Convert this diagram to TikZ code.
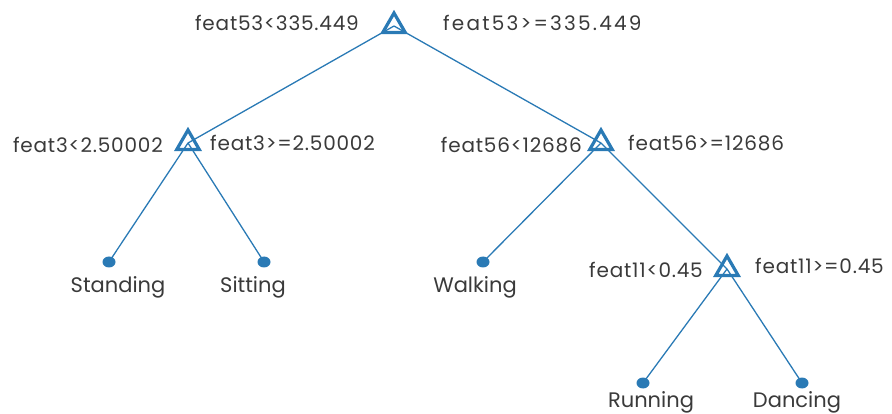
\documentclass[tikz,border=0pt]{standalone}
\usepackage{fontspec}
\setmainfont{Poppins}
\usetikzlibrary{shapes.geometric}
\definecolor{treeblue}{HTML}{2A7AB5}
\definecolor{treetext}{HTML}{3A3A3A}
\begin{document}
\begin{tikzpicture}
        [
            x = 1pt, y = -1pt,
            split/.style = {regular polygon, regular polygon sides=3, draw=treeblue,
                line width=3.2pt, minimum size=26pt, inner sep=0pt},
            leaf/.style = {ellipse, fill=treeblue, minimum width=13pt, minimum height=11pt, inner sep=0pt},
            branch/.style = {draw=treeblue, line width=1.3pt},
            cond/.style = {text=treetext, font=\fontsize{20}{24}\selectfont\addfontfeatures{LetterSpace=4}, inner sep=0pt},
            act/.style = {text=treetext, font=\fontsize{21}{25}\selectfont, inner sep=0pt, anchor=base},
        ]
        \useasboundingbox (0,0) rectangle (892,414);
        % split nodes
        \node[split] (f53) at (394,26) {};
        \node[split] (f3) at (188,143) {};
        \node[split] (f56) at (601,143) {};
        \node[split] (f11) at (727,269) {};
        % leaves
        \node[leaf] (stand) at (109,262) {};
        \node[leaf] (sit) at (264,262) {};
        \node[leaf] (walk) at (483,262) {};
        \node[leaf] (run) at (643,383) {};
        \node[leaf] (dance) at (802,383) {};
        % branches
        \draw[branch] (f53.center) -- (f3.center);
        \draw[branch] (f53.center) -- (f56.center);
        \draw[branch] (f3.center) -- (stand.center);
        \draw[branch] (f3.center) -- (sit.center);
        \draw[branch] (f56.center) -- (walk.center);
        \draw[branch] (f56.center) -- (f11.center);
        \draw[branch] (f11.center) -- (run.center);
        \draw[branch] (f11.center) -- (dance.center);
        % conditions
        \node[cond, anchor=base east] (c53l) at (359,31) {feat53<335.449};
        \node[cond, anchor=base west] (c53r) at (443,31) {\addfontfeatures{LetterSpace=11}feat53>=335.449};
        \node[cond, anchor=base east] (c3l) at (163,153) {feat3<2.50002};
        \node[cond, anchor=base west] (c3r) at (210,151) {feat3>=2.50002};
        \node[cond, anchor=base east] (c56l) at (582,153) {feat56<12686};
        \node[cond, anchor=base west] (c56r) at (628,151) {feat56>=12686};
        \node[cond, anchor=base east] (c11l) at (703,277) {feat11<0.45};
        \node[cond, anchor=base west] (c11r) at (755,273) {feat11>=0.45};
        % activities
        \node[act] (standl) at (118,292) {Standing};
        \node[act] (sitl) at (253,292) {Sitting};
        \node[act] (walkl) at (475,292) {Walking};
        \node[act] (runl) at (651,407) {Running};
        \node[act] (dancel) at (797,407) {Dancing};
    \end{tikzpicture}
\end{document}
